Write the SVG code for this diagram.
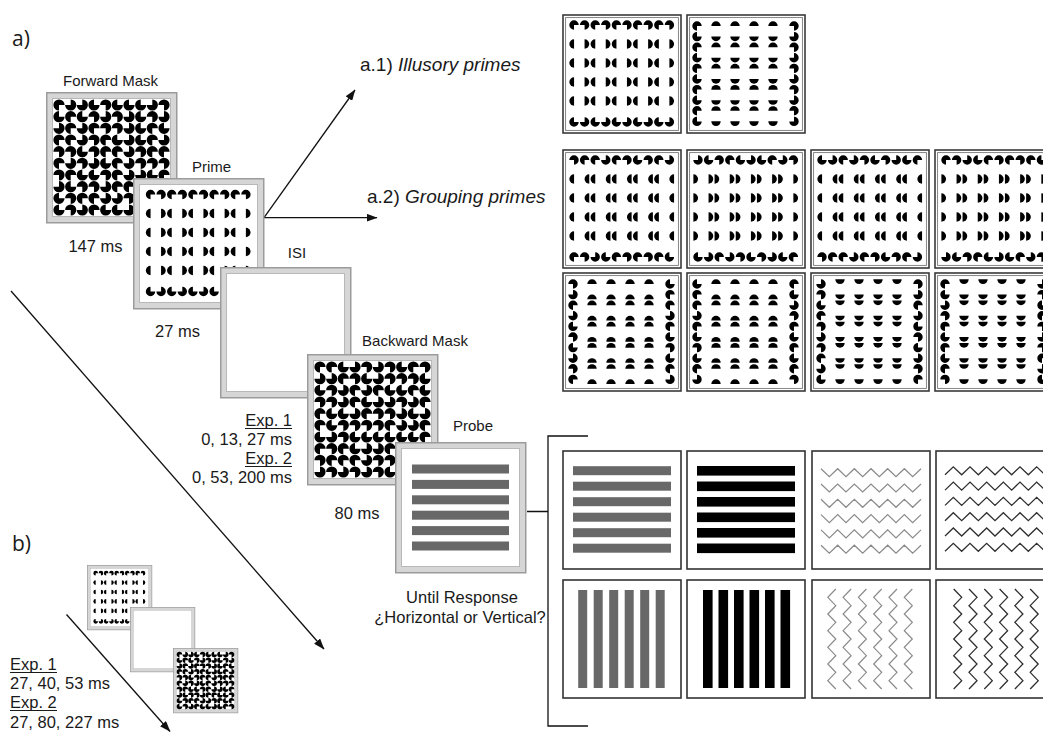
<svg xmlns="http://www.w3.org/2000/svg" width="1043" height="732" viewBox="0 0 1043 732">
<style>
text{font-family:"Liberation Sans",Arial,sans-serif;fill:#1a1a1a}
.lb{font-size:15px}
.ms{font-size:16.5px}
.big{font-size:19px}
.hd{font-size:21px;font-family:"Open Sans","Liberation Sans",sans-serif}
.it{font-style:italic}
.fo{fill:#d6d6d6;stroke:#9b9b9b;stroke-width:1.5}
.fi{fill:#fff;stroke:#b8b8b8;stroke-width:1}
.po{fill:#fff;stroke:#3a3a3a;stroke-width:1.6}
.pi{fill:none;stroke:#777;stroke-width:0.9}
.sp{fill:#fff;stroke:#333;stroke-width:1.6}
.ln{fill:none;stroke:#111;stroke-width:1.3}
.ul{stroke:#1a1a1a;stroke-width:1.2}
.zl{fill:none;stroke:#8a8a8a;stroke-width:1.2}
.zd{fill:none;stroke:#2f2f2f;stroke-width:1.3}
</style>
<defs>
<marker id="ah" markerUnits="userSpaceOnUse" markerWidth="11" markerHeight="8" refX="10.5" refY="4" orient="auto"><path d="M0,0 L11,4 L0,8 Z" fill="#111"/></marker>
<path id="m0" d="M0,0V-5.6A5.6,5.6 0 1 0 5.6,0Z"/>
<path id="m1" d="M0,0H5.6A5.6,5.6 0 1 0 0,5.6Z"/>
<path id="m2" d="M0,0V5.6A5.6,5.6 0 1 0 -5.6,0Z"/>
<path id="m3" d="M0,0H-5.6A5.6,5.6 0 1 0 0,-5.6Z"/>
<path id="q0" d="M0,0V-4.7A4.7,4.7 0 1 0 4.7,0Z"/>
<path id="q1" d="M0,0H4.7A4.7,4.7 0 1 0 0,4.7Z"/>
<path id="q2" d="M0,0V4.7A4.7,4.7 0 1 0 -4.7,0Z"/>
<path id="q3" d="M0,0H-4.7A4.7,4.7 0 1 0 0,-4.7Z"/>
<path id="hL" d="M2.35,-4.7A4.7,4.7 0 0 0 2.35,4.7Z"/>
<path id="hR" d="M-2.35,-4.7A4.7,4.7 0 0 1 -2.35,4.7Z"/>
<polyline id="zh" points="0,-4 8.33,4 16.67,-4 25,4 33.33,-4 41.67,4 50,-4 58.33,4 66.67,-4 75,4 83.33,-4 91.67,4 100,-4"/>
<g id="zz"><use href="#zh" x="9" y="21.7"/><use href="#zh" x="9" y="37"/><use href="#zh" x="9" y="52.3"/><use href="#zh" x="9" y="67.6"/><use href="#zh" x="9" y="82.9"/><use href="#zh" x="9" y="98.2"/></g>
<g id="hb"><rect x="10" y="15.2" width="98" height="9"/><rect x="10" y="30.7" width="98" height="9"/><rect x="10" y="46.2" width="98" height="9"/><rect x="10" y="61.7" width="98" height="9"/><rect x="10" y="77.2" width="98" height="9"/><rect x="10" y="92.7" width="98" height="9"/></g>
<g id="hbk"><rect x="10" y="15" width="98" height="9.6"/><rect x="10" y="30.5" width="98" height="9.6"/><rect x="10" y="46" width="98" height="9.6"/><rect x="10" y="61.5" width="98" height="9.6"/><rect x="10" y="77" width="98" height="9.6"/><rect x="10" y="92.5" width="98" height="9.6"/></g>
<g id="fr"><rect class="fo" x="0.75" y="0.75" width="130" height="130"/><rect class="fi" x="6.5" y="6.5" width="118" height="118"/></g>
<g id="pf"><rect class="po" x="0" y="0" width="118" height="118"/><rect class="pi" x="2.6" y="2.6" width="112.8" height="112.8"/></g>
<g id="rI"><use href="#hL" x="8.7"/><use href="#hR" x="23.9"/><use href="#hL" x="29.9"/><use href="#hR" x="45.1"/><use href="#hL" x="51.1"/><use href="#hR" x="66.3"/><use href="#hL" x="72.3"/><use href="#hR" x="87.5"/><use href="#hL" x="93.5"/><use href="#hR" x="108.7"/></g>
<g id="rL"><use href="#hL" x="8.7"/><use href="#hL" x="23.9"/><use href="#hL" x="29.9"/><use href="#hL" x="45.1"/><use href="#hL" x="51.1"/><use href="#hL" x="66.3"/><use href="#hL" x="72.3"/><use href="#hL" x="87.5"/><use href="#hL" x="93.5"/><use href="#hL" x="108.7"/></g>
<g id="rR"><use href="#hR" x="8.7"/><use href="#hR" x="23.9"/><use href="#hR" x="29.9"/><use href="#hR" x="45.1"/><use href="#hR" x="51.1"/><use href="#hR" x="66.3"/><use href="#hR" x="72.3"/><use href="#hR" x="87.5"/><use href="#hR" x="93.5"/><use href="#hR" x="108.7"/></g>
<g id="tI"><use href="#q1" x="11"/><use href="#q2" x="21.6"/><use href="#q1" x="32.2"/><use href="#q2" x="42.8"/><use href="#q1" x="53.4"/><use href="#q2" x="64"/><use href="#q1" x="74.6"/><use href="#q2" x="85.2"/><use href="#q1" x="95.8"/><use href="#q2" x="106.4"/></g>
<g id="bI"><use href="#q0" x="11"/><use href="#q3" x="21.6"/><use href="#q0" x="32.2"/><use href="#q3" x="42.8"/><use href="#q0" x="53.4"/><use href="#q3" x="64"/><use href="#q0" x="74.6"/><use href="#q3" x="85.2"/><use href="#q0" x="95.8"/><use href="#q3" x="106.4"/></g>
<g id="P1"><use href="#q2" x="11"/><use href="#q1" x="21.6"/><use href="#q1" x="32.2"/><use href="#q3" x="42.8"/><use href="#q1" x="53.4"/><use href="#q2" x="64"/><use href="#q0" x="74.6"/><use href="#q2" x="85.2"/><use href="#q1" x="95.8"/><use href="#q3" x="106.4"/></g>
<g id="P2"><use href="#q1" x="11"/><use href="#q2" x="21.6"/><use href="#q3" x="32.2"/><use href="#q0" x="42.8"/><use href="#q1" x="53.4"/><use href="#q2" x="64"/><use href="#q1" x="74.6"/><use href="#q2" x="85.2"/><use href="#q1" x="95.8"/><use href="#q0" x="106.4"/></g>
<g id="P3"><use href="#q3" x="11"/><use href="#q0" x="21.6"/><use href="#q2" x="32.2"/><use href="#q1" x="42.8"/><use href="#q0" x="53.4"/><use href="#q3" x="64"/><use href="#q0" x="74.6"/><use href="#q1" x="85.2"/><use href="#q3" x="95.8"/><use href="#q2" x="106.4"/></g>
<g id="P4"><use href="#q0" x="11"/><use href="#q3" x="21.6"/><use href="#q1" x="32.2"/><use href="#q3" x="42.8"/><use href="#q2" x="53.4"/><use href="#q0" x="64"/><use href="#q2" x="74.6"/><use href="#q3" x="85.2"/><use href="#q0" x="95.8"/><use href="#q1" x="106.4"/></g>
<g id="gI"><use href="#tI" y="10"/><use href="#rI" y="29"/><use href="#rI" y="48"/><use href="#rI" y="67"/><use href="#rI" y="86"/><use href="#bI" y="107"/></g>
<g id="gL1"><use href="#P1" y="10"/><use href="#rL" y="29"/><use href="#rL" y="48"/><use href="#rL" y="67"/><use href="#rL" y="86"/><use href="#P2" y="107"/></g>
<g id="gR1"><use href="#P3" y="10"/><use href="#rR" y="29"/><use href="#rR" y="48"/><use href="#rR" y="67"/><use href="#rR" y="86"/><use href="#P4" y="107"/></g>
<g id="gL2"><use href="#P4" y="10"/><use href="#rL" y="29"/><use href="#rL" y="48"/><use href="#rL" y="67"/><use href="#rL" y="86"/><use href="#P1" y="107"/></g>
<g id="gR2"><use href="#P2" y="10"/><use href="#rR" y="29"/><use href="#rR" y="48"/><use href="#rR" y="67"/><use href="#rR" y="86"/><use href="#P3" y="107"/></g>
<g id="mask">
<g transform="translate(0,13)"><use href="#m1" x="13"/><use href="#m3" x="24.7"/><use href="#m3" x="36.3"/><use href="#m0" x="48"/><use href="#m2" x="59.7"/><use href="#m0" x="71.3"/><use href="#m0" x="83"/><use href="#m0" x="94.7"/><use href="#m3" x="106.3"/><use href="#m2" x="118"/></g>
<g transform="translate(0,24.7)"><use href="#m0" x="13"/><use href="#m1" x="24.7"/><use href="#m0" x="36.3"/><use href="#m2" x="48"/><use href="#m3" x="59.7"/><use href="#m2" x="71.3"/><use href="#m3" x="83"/><use href="#m0" x="94.7"/><use href="#m2" x="106.3"/><use href="#m3" x="118"/></g>
<g transform="translate(0,36.3)"><use href="#m3" x="13"/><use href="#m1" x="24.7"/><use href="#m3" x="36.3"/><use href="#m1" x="48"/><use href="#m2" x="59.7"/><use href="#m2" x="71.3"/><use href="#m3" x="83"/><use href="#m0" x="94.7"/><use href="#m1" x="106.3"/><use href="#m0" x="118"/></g>
<g transform="translate(0,48)"><use href="#m1" x="13"/><use href="#m1" x="24.7"/><use href="#m3" x="36.3"/><use href="#m2" x="48"/><use href="#m1" x="59.7"/><use href="#m0" x="71.3"/><use href="#m3" x="83"/><use href="#m0" x="94.7"/><use href="#m1" x="106.3"/><use href="#m3" x="118"/></g>
<g transform="translate(0,59.7)"><use href="#m2" x="13"/><use href="#m2" x="24.7"/><use href="#m0" x="36.3"/><use href="#m2" x="48"/><use href="#m1" x="59.7"/><use href="#m1" x="71.3"/><use href="#m3" x="83"/><use href="#m2" x="94.7"/><use href="#m1" x="106.3"/><use href="#m1" x="118"/></g>
<g transform="translate(0,71.3)"><use href="#m1" x="13"/><use href="#m3" x="24.7"/><use href="#m2" x="36.3"/><use href="#m3" x="48"/><use href="#m0" x="59.7"/><use href="#m1" x="71.3"/><use href="#m3" x="83"/><use href="#m2" x="94.7"/><use href="#m2" x="106.3"/><use href="#m2" x="118"/></g>
<g transform="translate(0,83)"><use href="#m2" x="13"/><use href="#m1" x="24.7"/><use href="#m0" x="36.3"/><use href="#m0" x="48"/><use href="#m2" x="59.7"/><use href="#m1" x="71.3"/><use href="#m3" x="83"/><use href="#m3" x="94.7"/><use href="#m0" x="106.3"/><use href="#m1" x="118"/></g>
<g transform="translate(0,94.7)"><use href="#m3" x="13"/><use href="#m0" x="24.7"/><use href="#m2" x="36.3"/><use href="#m2" x="48"/><use href="#m3" x="59.7"/><use href="#m1" x="71.3"/><use href="#m1" x="83"/><use href="#m0" x="94.7"/><use href="#m0" x="106.3"/><use href="#m2" x="118"/></g>
<g transform="translate(0,106.3)"><use href="#m0" x="13"/><use href="#m2" x="24.7"/><use href="#m1" x="36.3"/><use href="#m1" x="48"/><use href="#m3" x="59.7"/><use href="#m3" x="71.3"/><use href="#m2" x="83"/><use href="#m1" x="94.7"/><use href="#m0" x="106.3"/><use href="#m1" x="118"/></g>
<g transform="translate(0,118)"><use href="#m0" x="13"/><use href="#m2" x="24.7"/><use href="#m3" x="36.3"/><use href="#m1" x="48"/><use href="#m0" x="59.7"/><use href="#m0" x="71.3"/><use href="#m3" x="83"/><use href="#m0" x="94.7"/><use href="#m1" x="106.3"/><use href="#m2" x="118"/></g>
</g>
</defs>

<rect width="1043" height="732" fill="#fff"/>

<text class="hd" x="12" y="46">a)</text>
<text class="hd" x="12" y="551">b)</text>

<g id="connectors">
<line class="ln" x1="264" y1="217.7" x2="355" y2="90" marker-end="url(#ah)"/>
<line class="ln" x1="264" y1="217.7" x2="377" y2="217.7" marker-end="url(#ah)"/>
<line class="ln" x1="11" y1="291" x2="324" y2="649" marker-end="url(#ah)"/>
<line class="ln" x1="66.5" y1="614.5" x2="170" y2="731.5" marker-end="url(#ah)"/>
<path class="ln" d="M527,511.5H548M588,436H548V726H588" stroke="#333"/>
</g>

<g id="forward-mask"><g transform="translate(46,92)"><use href="#fr"/><use href="#mask"/></g>
<text class="lb" x="110.5" y="86" text-anchor="middle">Forward Mask</text>
<text class="ms" x="95.5" y="252" text-anchor="middle">147 ms</text></g>

<g id="prime"><g transform="translate(133,178)"><use href="#fr"/><use href="#gI" x="6.5" y="6.5"/></g>
<text class="lb" x="211.5" y="171.5" text-anchor="middle">Prime</text>
<text class="ms" x="177.5" y="337" text-anchor="middle">27 ms</text></g>

<g id="isi"><g transform="translate(220,267)"><use href="#fr"/></g>
<text class="lb" x="297" y="258" text-anchor="middle">ISI</text>
<text class="ms" x="292" y="426" text-anchor="end">Exp. 1</text>
<line class="ul" x1="245" y1="428.5" x2="292" y2="428.5"/>
<text class="ms" x="292" y="444.5" text-anchor="end">0, 13, 27 ms</text>
<text class="ms" x="292" y="464" text-anchor="end">Exp. 2</text>
<line class="ul" x1="245" y1="466.5" x2="292" y2="466.5"/>
<text class="ms" x="292" y="483" text-anchor="end">0, 53, 200 ms</text></g>

<g id="backward-mask"><g transform="translate(307,354)"><use href="#fr"/><use href="#mask" transform="rotate(90 65.5 65.5)"/></g>
<text class="lb" x="415" y="346" text-anchor="middle">Backward Mask</text>
<text class="ms" x="357" y="519" text-anchor="middle">80 ms</text></g>

<g id="probe"><g transform="translate(395,442)"><use href="#fr"/>
<g fill="#686868"><rect x="17" y="22.5" width="97" height="9"/><rect x="17" y="37.9" width="97" height="9"/><rect x="17" y="53.3" width="97" height="9"/><rect x="17" y="68.7" width="97" height="9"/><rect x="17" y="84.1" width="97" height="9"/><rect x="17" y="99.5" width="97" height="9"/></g></g>
<text class="lb" x="473" y="431" text-anchor="middle">Probe</text>
<text class="ms" x="462" y="603" text-anchor="middle">Until Response</text>
<text class="ms" x="460" y="623" text-anchor="middle">¿Horizontal or Vertical?</text></g>

<g id="illusory-primes">
<text class="big" x="360" y="71">a.1) <tspan class="it">Illusory primes</tspan></text>
<g transform="translate(563,15)"><use href="#pf"/><use href="#gI"/></g>
<g transform="translate(687,15)"><use href="#pf"/><use href="#gI" transform="matrix(0,1,1,0,0,0)"/></g>
</g>

<g id="grouping-primes">
<text class="big" x="367" y="203">a.2) <tspan class="it">Grouping primes</tspan></text>
<g transform="translate(563,150)"><use href="#pf"/><use href="#gL1"/></g>
<g transform="translate(687,150)"><use href="#pf"/><use href="#gR1"/></g>
<g transform="translate(811,150)"><use href="#pf"/><use href="#gL2"/></g>
<g transform="translate(935,150)"><use href="#pf"/><use href="#gR2"/></g>
<g transform="translate(563,273)"><use href="#pf"/><use href="#gL2" transform="matrix(0,1,1,0,0,0)"/></g>
<g transform="translate(687,273)"><use href="#pf"/><use href="#gL1" transform="matrix(0,1,1,0,0,0)"/></g>
<g transform="translate(811,273)"><use href="#pf"/><use href="#gR1" transform="matrix(0,1,1,0,0,0)"/></g>
<g transform="translate(935,273)"><use href="#pf"/><use href="#gR2" transform="matrix(0,1,1,0,0,0)"/></g>
</g>

<g id="probe-stimuli">
<g transform="translate(563,451)"><rect class="sp" width="118" height="118"/><use href="#hb" fill="#686868"/></g>
<g transform="translate(687,451)"><rect class="sp" width="118" height="118"/><use href="#hbk" fill="#000"/></g>
<g transform="translate(812,451)"><rect class="sp" width="118" height="118"/><use href="#zz" class="zl"/></g>
<g transform="translate(936,451)"><rect class="sp" width="118" height="118"/><use href="#zz" class="zd" transform="translate(0,118) scale(1,-1)"/></g>
<g transform="translate(563,580)"><rect class="sp" width="118" height="118"/><use href="#hb" fill="#686868" transform="matrix(0,1,1,0,0,0)"/></g>
<g transform="translate(687,580)"><rect class="sp" width="118" height="118"/><use href="#hbk" fill="#000" transform="matrix(0,1,1,0,1,0)"/></g>
<g transform="translate(812,580)"><rect class="sp" width="118" height="118"/><use href="#zz" class="zl" transform="translate(118,0) rotate(90)"/></g>
<g transform="translate(936,580)"><rect class="sp" width="118" height="118"/><use href="#zz" class="zd" transform="matrix(0,1,1,0,0,0)"/></g>
</g>

<g id="b-prime"><g transform="translate(87,565) scale(0.496)"><use href="#fr"/><use href="#gI" x="6.5" y="6.5"/></g></g>
<g id="b-isi"><g transform="translate(130,607) scale(0.496)"><use href="#fr"/></g></g>
<g id="b-mask"><g transform="translate(173,648) scale(0.496)"><use href="#fr"/><use href="#mask"/></g></g>
<g id="b-text">
<text class="ms" x="10" y="670">Exp. 1</text>
<line class="ul" x1="10" y1="672.5" x2="57" y2="672.5"/>
<text class="ms" x="10" y="689">27, 40, 53 ms</text>
<text class="ms" x="10" y="708">Exp. 2</text>
<line class="ul" x1="10" y1="710.5" x2="57" y2="710.5"/>
<text class="ms" x="10" y="728">27, 80, 227 ms</text>
</g>
</svg>
